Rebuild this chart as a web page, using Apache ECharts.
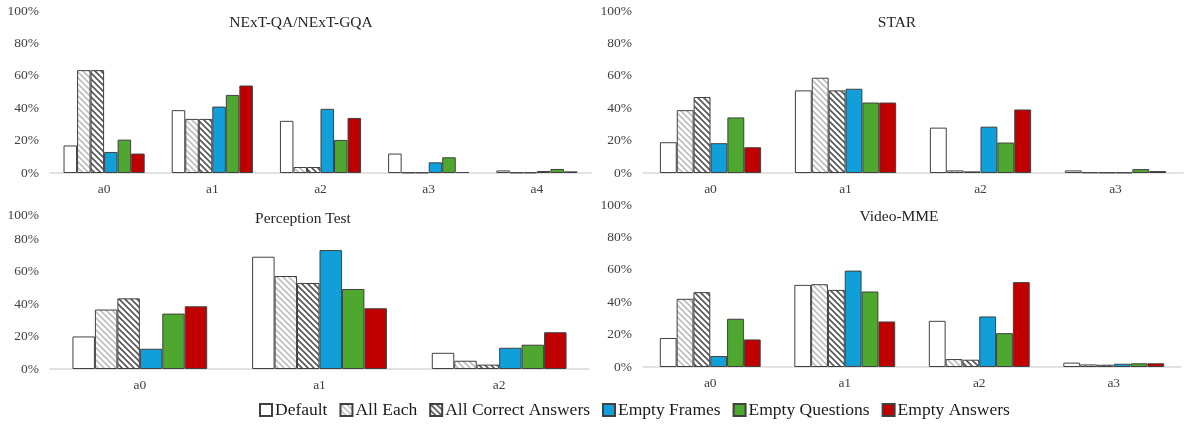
<!DOCTYPE html>
<html>
<head>
<meta charset="utf-8">
<script src="https://cdn.jsdelivr.net/npm/echarts@6/dist/echarts.min.js"></script>
<style>
html,body{margin:0;padding:0;background:#fff;}
#chart{width:1184px;height:426px;}
</style>
</head>
<body>
<div id="chart"></div>
<script>
// ---- data ----
const methods = ['Default', 'All Each', 'All Correct Answers', 'Empty Frames', 'Empty Questions', 'Empty Answers'];
const panelTitles = ['NExT-QA/NExT-GQA', 'STAR', 'Perception Test', 'Video-MME'];
const yTicks = [0, 20, 40, 60, 80, 100];

const nextqaCats = ['a0', 'a1', 'a2', 'a3', 'a4'];
const starCats = ['a0', 'a1', 'a2', 'a3'];
const perceptionCats = ['a0', 'a1', 'a2'];
const videommeCats = ['a0', 'a1', 'a2', 'a3'];

// rows follow "methods" order
const nextqaValues = [
  [17.0, 38.8, 32.2, 12.0, 1.6],
  [63.5, 33.4, 3.7, 0.3, 0.3],
  [63.5, 33.4, 3.7, 0.3, 0.3],
  [13.0, 41.0, 39.6, 6.6, 1.2],
  [20.6, 48.2, 20.4, 9.7, 2.5],
  [12.0, 54.0, 34.0, 0.6, 1.0]
];
const starValues = [
  [19.0, 51.0, 28.0, 1.6],
  [38.8, 58.8, 1.6, 0.4],
  [46.9, 51.0, 1.0, 0.3],
  [18.4, 52.0, 28.6, 0.3],
  [34.3, 43.5, 18.8, 2.4],
  [15.9, 43.5, 39.2, 1.2]
];
const perceptionValues = [
  [20.1, 69.3, 10.0],
  [36.7, 57.4, 5.1],
  [43.6, 53.1, 2.7],
  [12.5, 73.4, 13.1],
  [34.2, 49.4, 15.0],
  [38.7, 37.5, 22.7]
];
const videommeValues = [
  [17.9, 50.7, 28.5, 2.7],
  [42.1, 51.1, 4.9, 1.6],
  [46.2, 47.6, 4.5, 1.4],
  [6.8, 59.5, 31.2, 2.0],
  [29.8, 46.6, 20.9, 2.3],
  [17.0, 28.1, 52.4, 2.3]
];

// ---- styling ----
const FONT = 'Liberation Serif';
function hatch(lineColor, lw) {
  const s = 6;
  const c = document.createElement('canvas');
  c.width = s; c.height = s;
  const g = c.getContext('2d');
  g.fillStyle = '#ffffff';
  g.fillRect(0, 0, s, s);
  g.strokeStyle = lineColor;
  g.lineWidth = lw;
  g.beginPath();
  g.moveTo(-1, -1); g.lineTo(s + 1, s + 1);
  g.moveTo(-1, s - 1); g.lineTo(1, s + 1);
  g.moveTo(s - 1, -1); g.lineTo(s + 1, 1);
  g.stroke();
  return { image: c, repeat: 'repeat' };
}
const fills = [
  '#ffffff',
  hatch('#bdbdbd', 1.6),
  hatch('#555555', 1.6),
  '#109fd8',
  '#4ea72e',
  '#c00000'
];

const cats = [nextqaCats, starCats, perceptionCats, videommeCats];
const vals = [nextqaValues, starValues, perceptionValues, videommeValues];
const grids = [
  { left: 50, right: 593, top: 11, bottom: 253 },
  { left: 643, right: 1, top: 11, bottom: 253 },
  { left: 50, right: 595, top: 207, bottom: 57 },
  { left: 643, right: 3, top: 205, bottom: 59 }
];
const titlePos = [
  { x: 296, y: 10 }, { x: 892, y: 10 }, { x: 298, y: 206 }, { x: 894, y: 204 }
];

const xAxes = [], yAxes = [], series = [], titles = [];
for (let p = 0; p < 4; p++) {
  xAxes.push({
    type: 'category', gridIndex: p, data: cats[p],
    axisLine: { lineStyle: { color: '#d9d9d9', width: 1.5 } },
    axisTick: { show: false },
    axisLabel: { color: '#404040', fontFamily: FONT, fontSize: 13.5, margin: 9 }
  });
  yAxes.push({
    type: 'value', gridIndex: p, min: yTicks[0], max: yTicks[yTicks.length - 1], interval: 20,
    axisLine: { show: false }, axisTick: { show: false }, splitLine: { show: false },
    axisLabel: {
      color: '#404040', fontFamily: FONT, fontSize: 13.5, margin: 11,
      formatter: (v) => (p === 2 && v === 100) ? '{t|100%}' : v + '%',
      rich: { t: { fontFamily: FONT, fontSize: 13.5, color: '#404040', padding: [16, 0, 0, 0] } }
    }
  });
  titles.push({
    text: panelTitles[p], left: titlePos[p].x, top: titlePos[p].y, textAlign: 'center',
    textStyle: { fontFamily: FONT, fontSize: 15.5, fontWeight: 'normal', color: '#262626' }
  });
  for (let m = 0; m < methods.length; m++) {
    series.push({
      type: 'bar', name: methods[m], xAxisIndex: p, yAxisIndex: p,
      data: vals[p][m],
      barGap: '0%', barCategoryGap: '25%',
      itemStyle: { color: fills[m], borderColor: '#404040', borderWidth: 1 },
      emphasis: { disabled: true },
      animation: false
    });
  }
}

const chart = echarts.init(document.getElementById('chart'), null, { renderer: 'canvas' });
chart.setOption({
  backgroundColor: '#ffffff',
  animation: false,
  title: titles,
  legend: {
    data: methods, bottom: 2, left: 254,
    itemWidth: 12, itemHeight: 12, itemGap: 12,
    icon: 'rect',
    textStyle: { fontFamily: FONT, fontSize: 17.5, color: '#1a1a1a', padding: [0, 0, 0, -2] }
  },
  grid: grids,
  xAxis: xAxes,
  yAxis: yAxes,
  series: series
});
</script>
</body>
</html>
